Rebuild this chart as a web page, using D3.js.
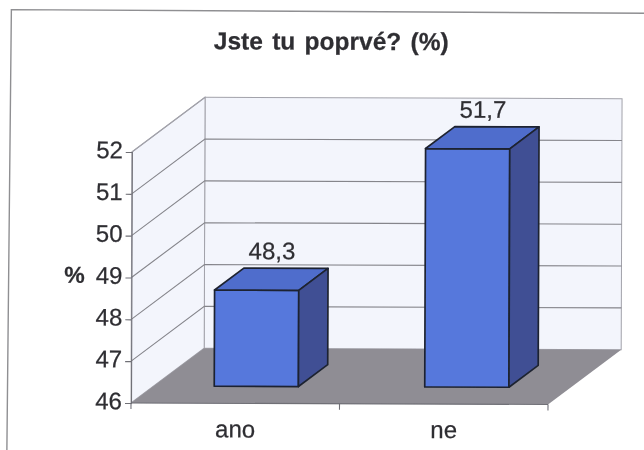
<!DOCTYPE html>
<html lang="cs">
<head>
<meta charset="utf-8">
<title>Jste tu poprvé? (%)</title>
<script src="https://cdnjs.cloudflare.com/ajax/libs/d3/7.9.0/d3.min.js"></script>
<style>
html,body{margin:0;padding:0;background:#fff;overflow:hidden}
svg{display:block}
text{font-family:"Liberation Sans",Arial,sans-serif;fill:#2f2e33;stroke:#2f2e33;stroke-width:0.25px}
</style>
</head>
<body>
<script>
const categories = ["ano", "ne"];
const values = [48.3, 51.7];
const yTicks = [46, 47, 48, 49, 50, 51, 52];
const titleText = "Jste tu poprvé? (%)";
const yLabel = "%";

const W = 644, H = 450;
const svg = d3.select("body").append("svg").attr("width", W).attr("height", H);
const defs = svg.append("defs");
defs.append("filter").attr("id", "scan").attr("x", "-2%").attr("y", "-2%").attr("width", "104%").attr("height", "104%")
  .append("feGaussianBlur").attr("stdDeviation", 0.45);

const root = svg.append("g").attr("filter", "url(#scan)")
  .append("g").attr("transform", "rotate(0.2 131 403)");

// scales
const x = d3.scaleBand().domain(categories).range([131, 548]).paddingInner(0.6).paddingOuter(0.3);
const barX = d3.scaleBand().domain(categories).range([128.4, 549.4]).paddingInner(0.6).paddingOuter(0.3);
const y = d3.scaleLinear().domain([46, 52]).range([403, 152]);
const depthX = d3.scaleLinear().domain([0, 1]).range([0, 73]);
const depthY = d3.scaleLinear().domain([0, 1]).range([0, -55]);
const pt = (px, val, d) => [px + depthX(d), y(val) + depthY(d)];
const poly = pts => pts.map(p => p.join(",")).join(" ");

// chart frame
root.append("path").attr("d", `M${W + 6},11.5 L10,10 L7,${H + 6}`)
  .attr("fill", "none").attr("stroke", "#8f8f92").attr("stroke-width", 1.4);

const x0 = x.range()[0], x1 = x.range()[1];
const [dMin, dMax] = y.domain();
const wallColor = "#f3f5fc", lineColor = "#85858b";

// walls and floor
root.append("polygon").attr("fill", wallColor).attr("stroke", "#a2a2aa").attr("stroke-width", 1)
  .attr("points", poly([pt(x0, dMin, 1), pt(x0, dMax, 1), pt(x1, dMax, 1), pt(x1, dMin, 1)]));
root.append("polygon").attr("fill", wallColor).attr("stroke", "#a2a2aa").attr("stroke-width", 1)
  .attr("points", poly([pt(x0, dMin, 0), pt(x0, dMax, 0), pt(x0, dMax, 1), pt(x0, dMin, 1)]));

// gridlines
const grid = root.append("g").attr("fill", "none").attr("stroke", lineColor).attr("stroke-width", 1.1);
yTicks.filter(t => t > dMin && t < dMax).forEach(t => {
  grid.append("polyline").attr("points", poly([pt(x0, t, 0), pt(x0, t, 1), pt(x1, t, 1)]));
});
grid.append("polyline").attr("stroke", "#a2a2aa").attr("points", poly([pt(x0, dMax, 0), pt(x0, dMax, 1)]));

root.append("polygon").attr("fill", "#8f8d94")
  .attr("points", poly([pt(x0, dMin, 0), pt(x0, dMin, 1), pt(x1, dMin, 1), pt(x1, dMin, 0)]));

// axes
const fmt = d3.formatLocale({decimal: ",", thousands: " ", grouping: [3], currency: ["", ""]}).format(".1f");
const yAxis = root.append("g").attr("transform", `translate(${x0},0)`)
  .call(d3.axisLeft(y).tickValues(yTicks).tickFormat(d3.format("d")).tickSize(6).tickPadding(3));
const xAxis = root.append("g").attr("transform", `translate(0,${y(dMin)})`)
  .call(d3.axisBottom(x).tickSize(0).tickPadding(16));
[yAxis, xAxis].forEach(a => {
  a.selectAll("path,line").attr("stroke", "#6f6f76").attr("stroke-width", 1.1);
  a.attr("font-family", null).attr("font-size", null);
  a.selectAll("text").style("font-size", "24px");
});
yAxis.selectAll("text").attr("dy", "0.24em");
xAxis.select("path").attr("d", `M${x0},0H${x1}`);
xAxis.selectAll("text").attr("dy", "0.75em");
// category boundary ticks
const step = (x1 - x0) / categories.length;
xAxis.selectAll("line.bound").data(d3.range(categories.length + 1)).join("line")
  .attr("class", "bound").attr("x1", i => x0 + i * step).attr("x2", i => x0 + i * step)
  .attr("y1", 0).attr("y2", 6).attr("stroke", "#6f6f76").attr("stroke-width", 1.1);

// bars
const fFront = 0.31, fBack = 0.71;
const bars = root.append("g").selectAll("g").data(categories).join("g");
const edge = {stroke: "#1f2430", width: 1.7};
bars.each(function (c, i) {
  const g = d3.select(this), l = barX(c), r = l + barX.bandwidth(), v = values[i];
  const add = (pts, fill) => g.append("polygon").attr("points", poly(pts)).attr("fill", fill)
    .attr("stroke", edge.stroke).attr("stroke-width", edge.width).attr("stroke-linejoin", "round");
  add([pt(l, dMin, fFront), pt(r, dMin, fFront), pt(r, v, fFront), pt(l, v, fFront)], "#5678dc");
  add([pt(l, v, fFront), pt(r, v, fFront), pt(r, v, fBack), pt(l, v, fBack)], "#506dcc");
  add([pt(r, dMin, fFront), pt(r, dMin, fBack), pt(r, v, fBack), pt(r, v, fFront)], "#3f5094");
  const [cx, cy] = pt(l + barX.bandwidth() / 2, v, fBack);
  g.append("text").attr("x", cx - 14).attr("y", cy - 9).attr("text-anchor", "middle")
    .style("font-size", "24px").text(fmt(v));
});

// titles
root.append("text").attr("x", 330).attr("y", 49).attr("text-anchor", "middle")
  .style("font-size", "24.5px").style("font-weight", "bold").style("word-spacing", "2.5px").text(titleText);
root.append("text").attr("x", 74).attr("y", 283).attr("text-anchor", "middle")
  .style("font-size", "23px").style("font-weight", "bold").text(yLabel);
</script>
</body>
</html>
